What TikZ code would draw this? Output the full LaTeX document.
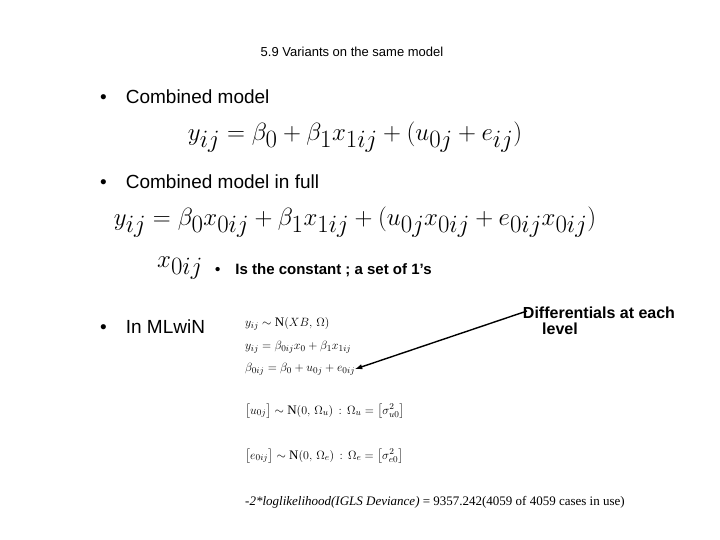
\documentclass[tikz,border=0pt]{standalone}
\usepackage{amsmath}
\usepackage{fontspec}
\setmainfont{Liberation Sans}
\newfontfamily\serif{Liberation Serif}
\begin{document}
\begin{tikzpicture}[x=1pt,y=-1pt,
  txt/.style={anchor=west,inner sep=0pt,font=\fontsize{19}{22}\selectfont},
  big/.style={inner sep=0pt,font=\fontsize{42}{46}\selectfont},
  ml/.style={anchor=west,inner sep=0pt,font=\serif\fontsize{13}{15}\selectfont}]
\useasboundingbox (0,0) rectangle (720,540);
\node[inner sep=0pt,font=\fontsize{13}{15}\selectfont] (title) at (352,52) {5.9 Variants on the same model};
\node[txt] (b1) at (100,97) {\textbullet\quad Combined model};
\node[big] (e1) at (355,137) {$y_{ij}=\beta_0+\beta_1x_{1ij}+(u_{0j}+e_{ij})$};
\node[txt] (b2) at (100,182) {\textbullet\quad Combined model in full};
\node[big] (e2) at (355,222) {$y_{ij}=\beta_0x_{0ij}+\beta_1x_{1ij}+(u_{0j}x_{0ij}+e_{0ij}x_{0ij})$};
\node[big] (x0) at (180,268) {$x_{0ij}$};
\node[anchor=west,inner sep=0pt,font=\bfseries\fontsize{15}{17}\selectfont] (b3) at (215,270) {\textbullet\quad Is the constant ; a set of 1’s};
\node[txt] (b4) at (100,327) {\textbullet\quad In MLwiN};
\node[align=left,inner sep=0pt,font=\bfseries\fontsize{16}{16}\selectfont] (diff) at (599,321) {Differentials at each\\\hspace*{1.2em}level};
\node[ml] (m1) at (245,324) {$y_{ij}\sim\text{\serif N}(XB,\,\Omega)$};
\node[ml] (m2) at (245,347) {$y_{ij}=\beta_{0ij}x_{0}+\beta_1x_{1ij}$};
\node[ml] (m3) at (245,369) {$\beta_{0ij}=\beta_0+u_{0j}+e_{0ij}$};
\node[ml] (m4) at (245,411) {$\bigl[u_{0j}\bigr]\sim\text{\serif N}(0,\,\Omega_u)\,:\,\Omega_u=\bigl[\sigma^2_{u0}\bigr]$};
\node[ml] (m5) at (245,456) {$\bigl[e_{0ij}\bigr]\sim\text{\serif N}(0,\,\Omega_e)\,:\,\Omega_e=\bigl[\sigma^2_{e0}\bigr]$};
\node[ml] (m6) at (245,502) {\itshape -2*loglikelihood(IGLS Deviance)\upshape{} = 9357.242(4059 of 4059 cases in use)};
\coordinate (s) at (527,311);
\draw[-latex,line width=1.4pt] (s) -- (m3.east);
\end{tikzpicture}
\end{document}
